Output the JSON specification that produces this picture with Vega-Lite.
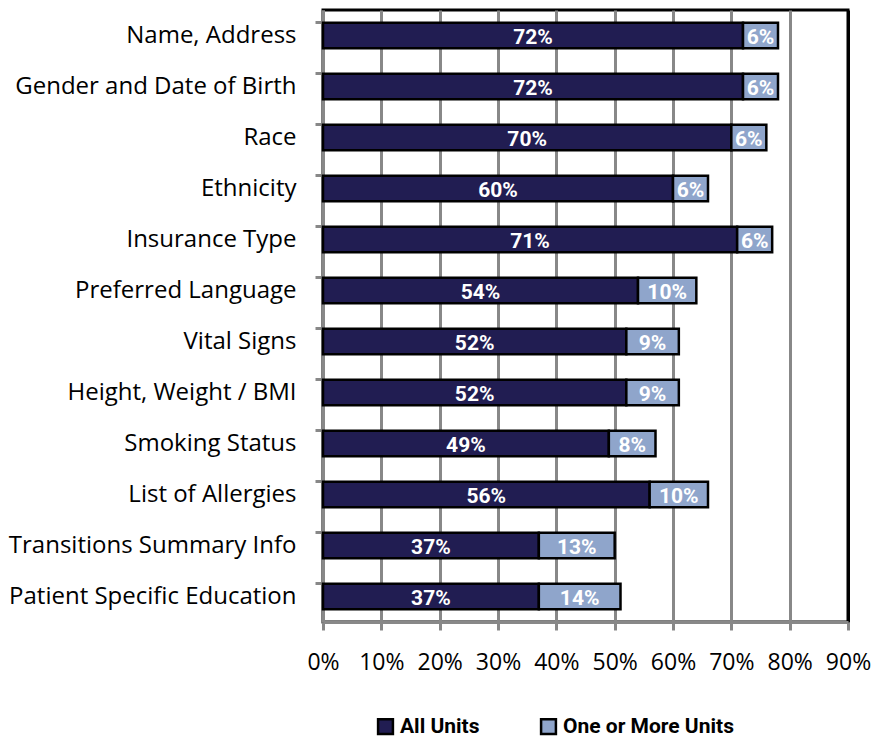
{
  "$schema": "https://vega.github.io/schema/vega-lite/v6.json",
  "width": 525,
  "height": 612,
  "autosize": {"type": "none"},
  "padding": {"left": 323, "top": 10, "right": 28, "bottom": 118},
  "config": {"view": {"stroke": "black", "strokeWidth": 3}, "font": "Open Sans"},
  "data": {"values": [
    {"item": "Name, Address", "series": "All Units", "order": 1, "value": 0.72},
    {"item": "Name, Address", "series": "One or More Units", "order": 2, "value": 0.06},
    {"item": "Gender and Date of Birth", "series": "All Units", "order": 1, "value": 0.72},
    {"item": "Gender and Date of Birth", "series": "One or More Units", "order": 2, "value": 0.06},
    {"item": "Race", "series": "All Units", "order": 1, "value": 0.70},
    {"item": "Race", "series": "One or More Units", "order": 2, "value": 0.06},
    {"item": "Ethnicity", "series": "All Units", "order": 1, "value": 0.60},
    {"item": "Ethnicity", "series": "One or More Units", "order": 2, "value": 0.06},
    {"item": "Insurance Type", "series": "All Units", "order": 1, "value": 0.71},
    {"item": "Insurance Type", "series": "One or More Units", "order": 2, "value": 0.06},
    {"item": "Preferred Language", "series": "All Units", "order": 1, "value": 0.54},
    {"item": "Preferred Language", "series": "One or More Units", "order": 2, "value": 0.10},
    {"item": "Vital Signs", "series": "All Units", "order": 1, "value": 0.52},
    {"item": "Vital Signs", "series": "One or More Units", "order": 2, "value": 0.09},
    {"item": "Height, Weight / BMI", "series": "All Units", "order": 1, "value": 0.52},
    {"item": "Height, Weight / BMI", "series": "One or More Units", "order": 2, "value": 0.09},
    {"item": "Smoking Status", "series": "All Units", "order": 1, "value": 0.49},
    {"item": "Smoking Status", "series": "One or More Units", "order": 2, "value": 0.08},
    {"item": "List of Allergies", "series": "All Units", "order": 1, "value": 0.56},
    {"item": "List of Allergies", "series": "One or More Units", "order": 2, "value": 0.10},
    {"item": "Transitions Summary Info", "series": "All Units", "order": 1, "value": 0.37},
    {"item": "Transitions Summary Info", "series": "One or More Units", "order": 2, "value": 0.13},
    {"item": "Patient Specific Education", "series": "All Units", "order": 1, "value": 0.37},
    {"item": "Patient Specific Education", "series": "One or More Units", "order": 2, "value": 0.14}
  ]},
  "transform": [
    {"stack": "value", "groupby": ["item"], "sort": [{"field": "order"}], "as": ["v0", "v1"]},
    {"calculate": "(datum.v0 + datum.v1) / 2", "as": "mid"}
  ],
  "encoding": {
    "y": {
      "field": "item", "type": "nominal",
      "sort": ["Name, Address", "Gender and Date of Birth", "Race", "Ethnicity", "Insurance Type", "Preferred Language", "Vital Signs", "Height, Weight / BMI", "Smoking Status", "List of Allergies", "Transitions Summary Info", "Patient Specific Education"],
      "scale": {"paddingInner": 0.5, "paddingOuter": 0.25},
      "axis": {
        "title": null, "labelFontSize": 24, "labelColor": "black", "labelPadding": 19, "labelLimit": 0,
        "domainColor": "#888888", "domainWidth": 3, "tickColor": "#888888", "tickWidth": 3, "tickSize": 8,
        "bandPosition": 0, "grid": false
      }
    }
  },
  "layer": [
    {
      "mark": {"type": "bar", "stroke": "black", "strokeWidth": 2.5},
      "encoding": {
        "x": {
          "field": "v0", "type": "quantitative", "scale": {"domain": [0, 0.9]},
          "axis": {
            "title": null, "format": ".0%", "values": [0, 0.1, 0.2, 0.3, 0.4, 0.5, 0.6, 0.7, 0.8, 0.9],
            "labelFontSize": 23, "labelColor": "black", "labelPadding": 21,
            "labelOverlap": false, "labelFlush": false,
            "tickColor": "#888888", "tickWidth": 3, "tickSize": 8,
            "domainColor": "#888888", "domainWidth": 3,
            "grid": true, "gridWidth": 3,
            "gridColor": {"condition": {"test": "datum.value >= 0.9", "value": "black"}, "value": "#888888"}
          }
        },
        "x2": {"field": "v1"},
        "color": {
          "field": "series", "type": "nominal",
          "scale": {"domain": ["All Units", "One or More Units"], "range": ["#211d52", "#8fa5cb"]},
          "legend": {
            "title": null, "orient": "none", "legendX": 52, "legendY": 706, "direction": "horizontal",
            "symbolType": "square", "symbolSize": 220, "symbolStrokeColor": "black", "symbolStrokeWidth": 2.5,
            "symbolOpacity": 1, "labelFontSize": 21, "labelFont": "Roboto", "labelLimit": 0,
            "labelFontWeight": "bold", "labelColor": "black", "columnPadding": 56
          }
        }
      }
    },
    {
      "mark": {"type": "text", "color": "white", "fontWeight": "bold", "fontSize": 21, "font": "Roboto", "baseline": "middle", "dy": 2},
      "encoding": {
        "x": {"field": "mid", "type": "quantitative"},
        "text": {"field": "value", "format": ".0%"}
      }
    }
  ]
}
